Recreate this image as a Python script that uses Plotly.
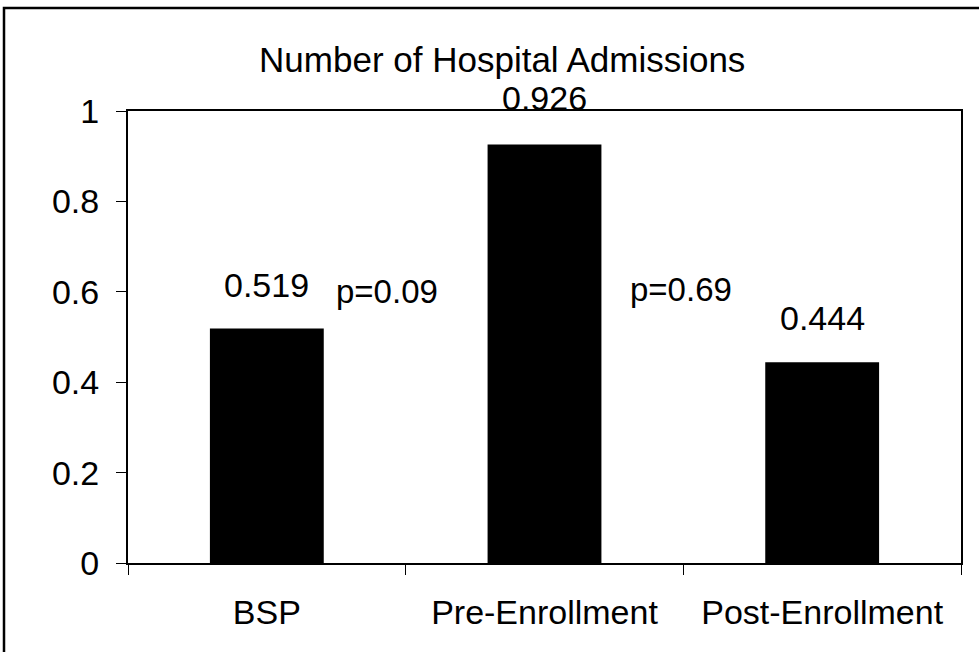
import plotly.graph_objects as go

categories = ["BSP", "Pre-Enrollment", "Post-Enrollment"]
values = [0.519, 0.926, 0.444]
value_labels = ["0.519", "0.926", "0.444"]
p_labels = ["p=0.09", "p=0.69"]
y_ticks = [0, 0.2, 0.4, 0.6, 0.8, 1]
y_tick_labels = ["0", "0.2", "0.4", "0.6", "0.8", "1"]
title_text = "Number of Hospital Admissions"

FONT = "Liberation Sans, Arial, sans-serif"
Y_RANGE = [0, 1]

# layout-only offsets for label placement (value units above each bar)
label_offsets = [0.096, 0.103, 0.098]
p_positions = [(0.433, 0.600), (1.493, 0.604)]

fig = go.Figure()
fig.add_trace(go.Bar(
    x=categories, y=values,
    marker=dict(color="black", line=dict(width=0)),
    showlegend=False, hoverinfo="x+y",
))

annotations = []
for c, v, t, off in zip(categories, values, value_labels, label_offsets):
    # paper coordinate of (value + offset) on the y scale (plot spans the full y domain)
    yp = (v + off - Y_RANGE[0]) / (Y_RANGE[1] - Y_RANGE[0])
    annotations.append(dict(x=c, y=yp, xref="x", yref="paper", text=t,
                            showarrow=False, font=dict(family=FONT, size=34, color="black"),
                            xanchor="center", yanchor="middle"))
for t, (px, py) in zip(p_labels, p_positions):
    annotations.append(dict(x=px, y=py, xref="x", yref="y", text=t,
                            showarrow=False, font=dict(family=FONT, size=33, color="black"),
                            xanchor="center", yanchor="middle"))

fig.update_layout(
    width=979, height=652,
    margin=dict(l=128, r=18, t=111, b=89, pad=0),
    paper_bgcolor="white", plot_bgcolor="white",
    bargap=0.59,
    title=dict(text=title_text, x=0.513, xanchor="center", y=0.908, yanchor="middle",
               font=dict(family=FONT, size=35, color="black")),
    annotations=annotations,
    font=dict(family=FONT, size=34, color="black"),
    shapes=[dict(type="rect", xref="paper", yref="paper",
                 x0=(4 - 128) / 833, x1=(995 - 128) / 833,
                 y0=(563 - 670) / 452, y1=(563 - 8) / 452,
                 line=dict(color="black", width=2.5), fillcolor="rgba(0,0,0,0)", layer="below")],
)
fig.update_xaxes(
    type="category", showline=True, linecolor="black", linewidth=2, mirror=True,
    ticks="outside", tickson="boundaries", ticklen=10, tickcolor="black", tickwidth=1,
    showgrid=False, ticklabelstandoff=18,
    tickfont=dict(family=FONT, size=34, color="black"),
)
fig.update_yaxes(
    range=Y_RANGE, tickvals=y_ticks, ticktext=y_tick_labels,
    showline=True, linecolor="black", linewidth=2, mirror=True,
    ticks="outside", ticklen=10, tickcolor="black", tickwidth=1,
    showgrid=False, zeroline=False, ticklabelstandoff=10,
    tickfont=dict(family=FONT, size=34, color="black"),
)

fig.write_html("out.html", config={"displayModeBar": False},
               post_script="document.body.style.margin='0';document.body.style.overflow='hidden';")
